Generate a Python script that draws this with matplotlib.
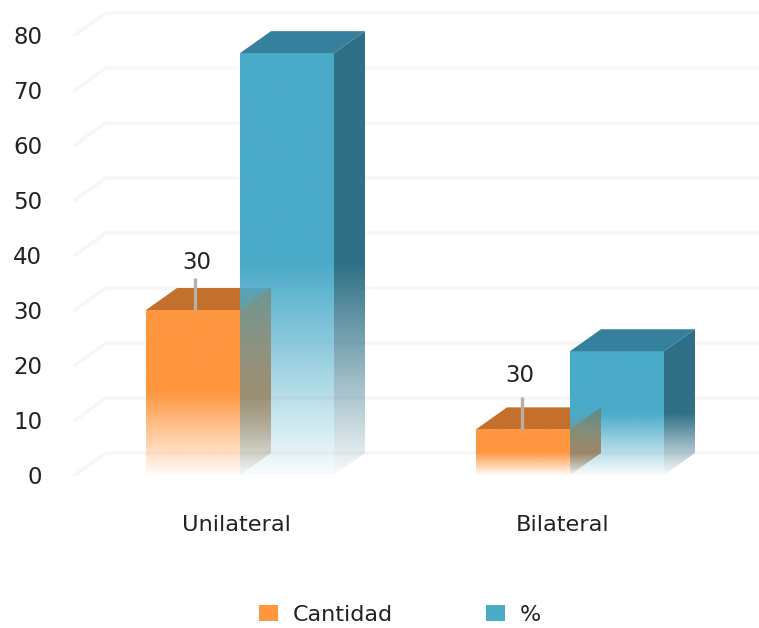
import numpy as np
import matplotlib
matplotlib.use("Agg")
import matplotlib.pyplot as plt
from matplotlib.colors import to_rgb
from matplotlib.patches import Patch, Polygon

# Chart data
categories = ["Unilateral", "Bilateral"]
cantidad = [30, 8.3]
porcentaje = [76.7, 22.5]
point_labels = ["30", "30"]
y_ticks = list(range(0, 90, 10))
series_names = ["Cantidad", "%"]

# Palette: front, top and side of each 3D column
ORANGE = ("#FF9640", "#C2702C", "#8A5A20")
BLUE = ("#4AABC9", "#35809C", "#2F7086")
TEXT = "#222222"

# Canvas geometry, in pixels
W, H = 759, 628
AX_LEFT, AX_BOTTOM, AX_TOP = 75, 475, 12
GROUP_X = (240, 570)
PX_PER_CAT = GROUP_X[1] - GROUP_X[0]
PX_PER_UNIT = 5.5
BAR_W = 94 / PX_PER_CAT
DX = 31 / PX_PER_CAT
DY = 22 / PX_PER_UNIT

# Point label placement relative to each orange column
label_lift = [8.7, 9.8]
label_shift = [0.012, -0.009]
leader_shift = [0.006, -0.003]

plt.rcParams["font.family"] = "DejaVu Sans"
fig = plt.figure(figsize=(W / 100, H / 100), dpi=100)
ax = fig.add_axes([AX_LEFT / W, 1 - AX_BOTTOM / H, (W - AX_LEFT) / W, (AX_BOTTOM - AX_TOP) / H])
xlim = ((AX_LEFT - GROUP_X[0]) / PX_PER_CAT, (W - GROUP_X[0]) / PX_PER_CAT)
ylim = (0, (AX_BOTTOM - AX_TOP) / PX_PER_UNIT)


def fading_face(verts, color, value, zorder, veil=(1.0, 1.0)):
    """Fill a polygon with a colour that fades out toward the chart floor.

    veil gives an extra opacity factor at the top and at the floor of the face.
    """
    xs, ys = zip(*verts)
    top = max(ys)
    n = 256
    levels = np.linspace(top, 0, n)
    alpha = np.clip(0.04 + 0.96 * levels / (0.5 * value), 0, 1)
    alpha = alpha * (veil[1] + (veil[0] - veil[1]) * levels / top)
    rgba = np.zeros((n, 2, 4))
    rgba[..., :3] = to_rgb(color)
    rgba[..., 3] = alpha[:, None]
    im = ax.imshow(rgba, extent=(min(xs), max(xs), 0, top), aspect="auto",
                   origin="upper", zorder=zorder, interpolation="bilinear")
    clip = Polygon(verts, closed=True, transform=ax.transData)
    im.set_clip_path(clip)


def flat_face(verts, color, zorder):
    ax.add_patch(Polygon(verts, closed=True, facecolor=color, edgecolor="none", zorder=zorder))


# Floor-to-top grid: wall lines and the slanted side wall
for v in y_ticks:
    ax.plot([xlim[0], xlim[0] + DX, xlim[1]], [v, v + DY, v + DY],
            color="#F6F6F6", lw=2.4, zorder=1, clip_on=False, solid_joinstyle="round")

for i in range(len(categories)):
    x = i
    # Orange column, left of the group centre
    h = cantidad[i]
    l, r = x - BAR_W, x
    flat_face([(l, h), (l + DX, h + DY), (r + DX, h + DY), (r, h)], ORANGE[1], 2)
    fading_face([(l, 0), (l, h), (r, h), (r, 0)], ORANGE[0], h, 3)

    # Blue column, right of the group centre
    hb = porcentaje[i]
    lb, rb = x, x + BAR_W
    fading_face([(lb, 0), (lb, hb), (rb, hb), (rb, 0)], BLUE[0], hb, 4)
    fading_face([(rb, 0), (rb, hb), (rb + DX, hb + DY), (rb + DX, DY)], BLUE[2], hb, 4)
    flat_face([(lb, hb), (lb + DX, hb + DY), (rb + DX, hb + DY), (rb, hb)], BLUE[1], 4)

    # Side of the orange column shows through over the blue front
    fading_face([(r, 0), (r, h), (r + DX, h + DY), (r + DX, DY)], ORANGE[2], h, 5, veil=(0.35, 0.8))

    # Leader line and point label
    cx = x - BAR_W / 2
    ax.plot([cx + leader_shift[i]] * 2, [h, h + 5.8], color="#B8B0A8", lw=2.4, zorder=6,
            solid_capstyle="butt")
    ax.text(cx + label_shift[i], h + label_lift[i], point_labels[i], ha="center", va="center",
            fontsize=16.5, color=TEXT, zorder=7)

ax.set_xlim(*xlim)
ax.set_ylim(*ylim)
for s in ax.spines.values():
    s.set_visible(False)
ax.patch.set_visible(False)
ax.set_yticks(y_ticks)
ax.set_xticks([-0.011, 0.977], categories)
ax.tick_params(axis="y", length=0, pad=23.5, labelsize=16.5, labelcolor=TEXT)
ax.tick_params(axis="x", length=0, pad=29, labelsize=16.2, labelcolor=TEXT)

handles = [Patch(facecolor=ORANGE[0], edgecolor="none", label=series_names[0]),
           Patch(facecolor=BLUE[0], edgecolor="none", label=series_names[1])]
fig.legend(handles=handles, ncols=2, frameon=False, loc="center",
           bbox_to_anchor=(400 / W, 1 - 615 / H), fontsize=16, labelcolor=TEXT,
           handlelength=0.85, handleheight=0.7, handletextpad=0.65, columnspacing=4.2)

fig.savefig("out.png", dpi=100)
